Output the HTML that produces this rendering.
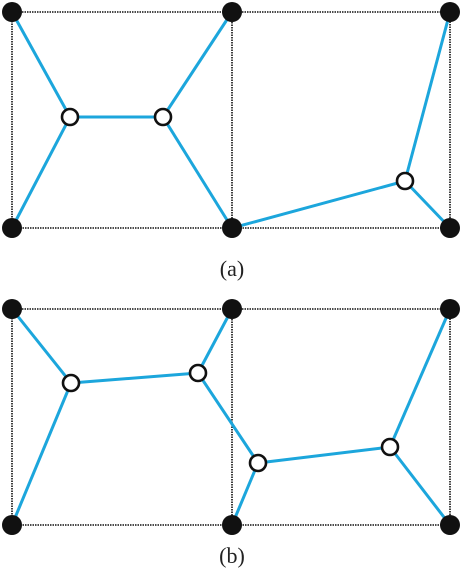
<!DOCTYPE html>
<html><head><meta charset="utf-8"><style>
html,body{margin:0;padding:0;background:#fff;}
svg{display:block;}
</style></head><body>
<svg id="chart" width="462" height="571" viewBox="0 0 462 571" xmlns="http://www.w3.org/2000/svg">
<g id="root"></g>
</svg>
<script>
const panels = ["a","b"];
const panelOffsetY = [0, 297];
const terminals = [[12,12],[232,12],[450,12],[12,228],[232,228],[450,228]];
const steinerA = [[70,117],[163,117],[405,181]];
const steinerB = [[71,86],[198,76],[258,166],[390,150]];
const edgesA = [["t0","s0"],["t3","s0"],["s0","s1"],["s1","t1"],["s1","t4"],["t4","s2"],["s2","t2"],["s2","t5"]];
const edgesB = [["t0","s0"],["t3","s0"],["s0","s1"],["s1","t1"],["s1","s2"],["s2","t4"],["s2","s3"],["s3","t2"],["s3","t5"]];
const labelText = ["(a)","(b)"];

const NS="http://www.w3.org/2000/svg";
const root=document.getElementById('root');
function mk(tag,attrs,parent){const e=document.createElementNS(NS,tag);for(const k in attrs)e.setAttribute(k,attrs[k]);parent.appendChild(e);return e;}
const steiners=[steinerA,steinerB], edges=[edgesA,edgesB];
panels.forEach((p,pi)=>{
  const oy=panelOffsetY[pi];
  const g=mk('g',{transform:`translate(0,${oy})`},root);
  
  
  const pt=id=>id[0]==='t'?terminals[+id.slice(1)]:steiners[pi][+id.slice(1)];
  const box=mk('path',{d:`M12 12H450V228H12Z M232 12V228`,fill:'none',stroke:'#111','stroke-width':1.6,'stroke-dasharray':'1.5 1'},g);
  
  
  edges[pi].forEach(([a,b])=>{
    const A=pt(a),B=pt(b);
    const l=mk('line',{x1:A[0],y1:A[1],x2:B[0],y2:B[1],stroke:'#1ca6dc','stroke-width':3},g);
    
    
  });
  terminals.forEach(t=>{
    const c=mk('circle',{cx:t[0],cy:t[1],r:10,fill:'#111'},g);
    
    
  });
  steiners[pi].forEach(s=>{
    const c=mk('circle',{cx:s[0],cy:s[1],r:8,fill:'#fff',stroke:'#111','stroke-width':2.6},g);
    
    
  });
  const t=mk('text',{x:232,y:pi===0?276:266,'text-anchor':'middle','font-family':'"Liberation Serif",serif','font-size':22,fill:'#222'},g);
  t.textContent=labelText[pi];
  
  
});
</script>
</body></html>
